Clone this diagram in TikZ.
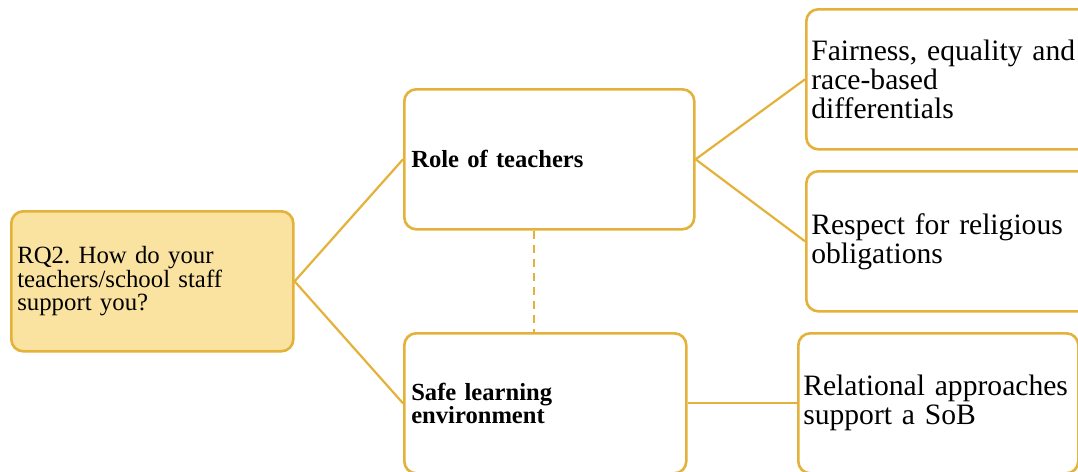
\documentclass[tikz,border=0pt]{standalone}
\usepackage{fontspec}
\setmainfont{Liberation Serif}
\usetikzlibrary{calc}
\definecolor{gold}{RGB}{228,178,58}
\definecolor{paleyellow}{RGB}{250,227,160}
\frenchspacing
\begin{document}
\begin{tikzpicture}[x=1pt,y=-1pt,
  box/.style={draw=gold, line width=2.6pt, rounded corners=12pt, align=left,
    anchor=north west, inner ysep=0pt, minimum height=140pt},
  small/.style={font=\fontsize{24.8}{23.5}\selectfont},
  smallbold/.style={font=\fontsize{24.6}{22}\selectfont\bfseries},
  large/.style={font=\fontsize{29.6}{29}\selectfont},
  conn/.style={draw=gold, line width=2.2pt},
  dashline/.style={draw=gold, line width=2pt, dash pattern=on 8pt off 6pt}]
\useasboundingbox (0,0) rectangle (1078,471);
\fill[white] (0,0) rectangle (1078,471);
\clip (0,0) rectangle (1078,471);

\node[box, small, fill=paleyellow, inner xsep=6pt, text width=270pt] (rq) at (10,210)
  {RQ2. How do your\\teachers/school staff\\support you?};
\node[box, smallbold, inner xsep=7pt, text width=276pt] (role) at (403,88)
  {Role of teachers};
\node[box, smallbold, inner xsep=7pt, text width=268pt] (safe) at (403,332)
  {Safe learning\\environment};
\node[box, large, inner xsep=5pt, text width=275pt] (fair) at (805,8)
  {Fairness, equality and\\race-based\\differentials};
\node[box, large, inner xsep=5pt, text width=275pt] (resp) at (805,170)
  {Respect for religious\\obligations};
\node[box, large, inner xsep=5pt, text width=270pt] (rel) at (797,332)
  {Relational approaches\\support a SoB};

\draw[conn] (rq.east) -- (role.west);
\draw[conn] (rq.east) -- (safe.west);
\draw[conn] (role.east) -- (fair.west);
\draw[conn] (role.east) -- (resp.west);
\draw[conn] (safe.east) -- (rel.west);
\draw[dashline] ([xshift=-15pt]role.south) -- ([xshift=-15pt]role.south |- safe.north);
\end{tikzpicture}
\end{document}
